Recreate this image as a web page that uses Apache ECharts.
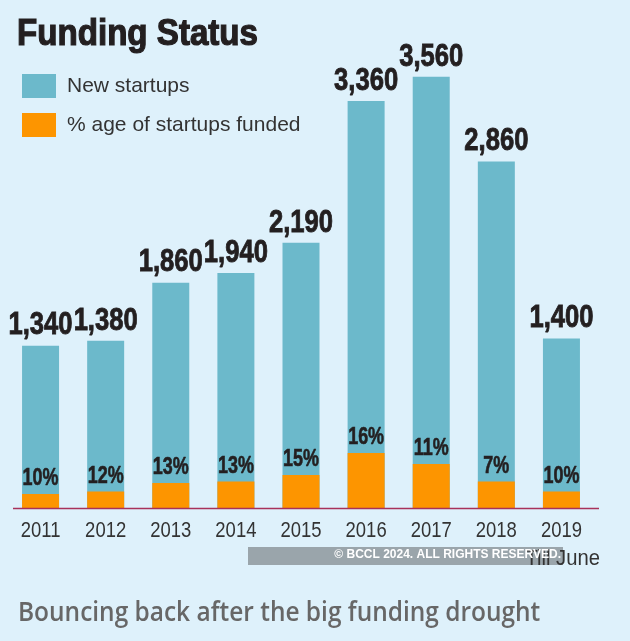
<!DOCTYPE html>
<html>
<head>
<meta charset="utf-8">
<script src="https://cdn.jsdelivr.net/npm/echarts@6/dist/echarts.min.js"></script>
<style>
html,body{margin:0;padding:0;background:#def1fb;}
#c{width:630px;height:641px;}
</style>
</head>
<body>
<div id="c"></div>
<script>
// ---- data ----
const years = ['2011', '2012', '2013', '2014', '2015', '2016', '2017', '2018', '2019'];
const newStartups = [1340, 1380, 1860, 1940, 2190, 3360, 3560, 2860, 1400];
const fundedPct = [10, 12, 13, 13, 15, 16, 11, 7, 10];
// height of each orange bar as drawn, read in the same units as new startups
const fundedBarHeight = [116, 136, 206, 219, 272, 454, 363, 219, 136];

const titleText = 'Funding Status';
const subtitleText = 'Bouncing back after the big funding drought';
const noteText = 'Till June';
const seriesNames = ['New startups', '% age of startups funded'];

const SANS = '"Liberation Sans", Arial, sans-serif';
const chart = echarts.init(document.getElementById('c'), null, {renderer: 'canvas'});

// condensed-looking text drawn at a data position via the chart's own scales
function labelSeries(data, makeText, opts) {
  return {
    type: 'custom', data: data, z: 20, silent: true, clip: false,
    renderItem: function (params, api) {
      const i = params.dataIndex;
      const pt = api.coord([api.value(0), api.value(1)]);
      return {
        type: 'text', x: pt[0], y: pt[1] + opts.dy, scaleX: opts.scaleX,
        style: {
          text: makeText(i), fontSize: opts.fontSize, fontWeight: opts.fontWeight,
          fontFamily: SANS, fill: opts.color, align: 'center', verticalAlign: 'middle',
          stroke: opts.stroke || null, lineWidth: opts.lineWidth || 0
        }
      };
    }
  };
}

chart.setOption({
  backgroundColor: '#def1fb',
  animation: false,
  grid: {left: 8, right: 36, top: 23.4, bottom: 133, containLabel: false},
  legend: {
    orient: 'vertical', left: 22, top: 74, padding: 0,
    itemWidth: 34, itemHeight: 24, itemGap: 15, icon: 'rect',
    data: seriesNames,
    textStyle: {fontSize: 21, color: '#333333', fontFamily: SANS, padding: [0, 0, 0, 6]}
  },
  xAxis: {
    type: 'category', data: years,
    axisLine: {show: false}, axisTick: {show: false}, axisLabel: {show: false}
  },
  yAxis: {type: 'value', min: 0, max: 4000, show: false, splitLine: {show: false}},
  series: [
    {
      name: seriesNames[0], type: 'bar', data: newStartups, barWidth: 37,
      itemStyle: {color: '#6cb9cb'}
    },
    {
      name: seriesNames[1], type: 'bar', data: fundedBarHeight, barWidth: 37, barGap: '-100%',
      itemStyle: {color: '#fd9500'}
    },
    labelSeries(years.map((y, i) => [i, newStartups[i]]),
      i => newStartups[i].toLocaleString('en-US'),
      {dy: -20, scaleX: 0.8, fontSize: 32, fontWeight: 'bold', color: '#231f20', stroke: '#231f20', lineWidth: 0.9}),
    labelSeries(years.map((y, i) => [i, fundedBarHeight[i]]),
      i => fundedPct[i] + '%',
      {dy: -15, scaleX: 0.78, fontSize: 23, fontWeight: 'bold', color: '#231f20', stroke: '#231f20', lineWidth: 0.6}),
    labelSeries(years.map((y, i) => [i, 0]),
      i => years[i],
      {dy: 23.4, scaleX: 0.84, fontSize: 22, fontWeight: 'normal', color: '#333333'})
  ],
  graphic: [
    {type: 'line', shape: {x1: 13, y1: 508.5, x2: 599, y2: 508.5}, style: {stroke: '#a8325a', lineWidth: 1.5}, z: 10},
    {type: 'text', x: 17, y: 35.5, scaleX: 0.92, style: {text: titleText, fontSize: 36, fontWeight: 'bold', fill: '#231f20',
      stroke: '#231f20', lineWidth: 1.2, fontFamily: SANS, align: 'left', verticalAlign: 'middle'}},
    {type: 'rect', shape: {x: 248, y: 547, width: 315, height: 18}, style: {fill: '#9aa5ab'}, z: 5},
    {type: 'text', x: 600, y: 559.4, z: 6, scaleX: 0.92, style: {text: noteText, fontSize: 22, fill: '#333333',
      fontFamily: SANS, align: 'right', verticalAlign: 'middle'}},
    {type: 'text', x: 561, y: 554.7, z: 7, style: {text: '\u00A9 BCCL 2024. ALL RIGHTS RESERVED.', fontSize: 12, fontWeight: 'bold', fill: '#ffffff',
      fontFamily: SANS, align: 'right', verticalAlign: 'middle'}},
    {type: 'text', x: 18, y: 613.6, scaleX: 0.906, style: {text: subtitleText, fontSize: 27, fontWeight: 600, fill: '#676767',
      fontFamily: '"Open Sans", sans-serif', align: 'left', verticalAlign: 'middle'}}
  ]
});
</script>
</body>
</html>
